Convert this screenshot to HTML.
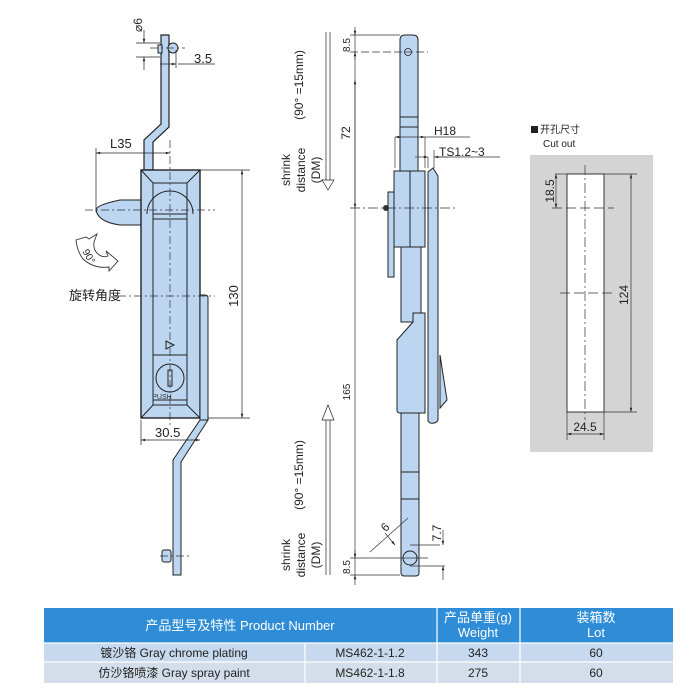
<!DOCTYPE html>
<html><head><meta charset="utf-8"><style>
body{margin:0;background:#fff;width:697px;height:691px;overflow:hidden;font-family:"Liberation Sans","Noto Sans CJK SC",sans-serif}
svg{position:absolute;left:0;top:0}
</style></head><body>
<svg width="697" height="691" viewBox="0 0 697 691" font-family="Liberation Sans, Noto Sans CJK SC, sans-serif">
<defs>
<marker id="a" viewBox="0 0 10 10" refX="10" refY="5" markerWidth="8" markerHeight="6" orient="auto-start-reverse"><path d="M0,2 L10,5 L0,8z" fill="#222"/></marker>
</defs>
<g stroke="#222" stroke-width="1" fill="#bcd5f1">
<!-- LEFT VIEW -->
<path d="M161,35 h8 v92 l-16,15 v28 h-9 v-30 l17,-16 z" stroke-width="1.2"/>
<circle cx="173" cy="48" r="5"/><rect x="158" y="45" width="4" height="8"/>
<path d="M141,200 H120 Q96,205 96,210 Q98,222 120,225 H141 z"/>
<rect x="141" y="170" width="59" height="248" stroke-width="1.4"/>
<path d="M200,295 h5 q3,0 3,3 v122 h-8 z"/>
<path d="M141,170 L153,183 H187 L200,170 M141,418 L153,405 H187 L200,418" fill="none"/>
<rect x="153" y="183" width="34" height="222"/>
<path d="M147,214 A23,23 0 0 1 193,214" fill="none"/>
<rect x="153" y="214" width="34" height="5"/>
<rect x="153" y="355" width="34" height="45"/>
<circle cx="170" cy="378" r="14"/>
<rect x="168" y="370" width="4" height="16" fill="none"/>
<path d="M166,341 l8,4 l-8,4z" fill="none"/>
<path d="M200,420 l8,0 l-27,42 v113 h-8 v-115 z"/>
<rect x="162" y="550" width="9" height="12" rx="2"/>
</g>
<text x="162" y="399" font-size="7" text-anchor="middle" fill="#333">PUSH</text>
<g stroke="#333" stroke-width="0.7" fill="none" stroke-dasharray="8,3,2,3">
<line x1="170" y1="140" x2="170" y2="428"/>
<line x1="85" y1="210" x2="215" y2="210"/>
<line x1="118" y1="296" x2="215" y2="296"/>
<line x1="160" y1="556" x2="190" y2="556"/>
<line x1="150" y1="48" x2="185" y2="48"/>
</g>
<g stroke="#222" stroke-width="0.7" fill="none">
<line x1="96" y1="148" x2="96" y2="212"/><line x1="96" y1="153" x2="170" y2="153" marker-start="url(#a)" marker-end="url(#a)"/>
<line x1="200" y1="170" x2="250" y2="170"/><line x1="208" y1="418" x2="250" y2="418"/>
<line x1="242" y1="170" x2="242" y2="418" marker-start="url(#a)" marker-end="url(#a)"/>
<line x1="141" y1="420" x2="141" y2="445"/><line x1="141" y1="440" x2="200" y2="440" marker-start="url(#a)" marker-end="url(#a)"/>
<line x1="136" y1="43" x2="160" y2="43"/><line x1="136" y1="57" x2="160" y2="57"/>
<line x1="144" y1="30" x2="144" y2="43" marker-end="url(#a)"/><line x1="144" y1="70" x2="144" y2="57" marker-end="url(#a)"/>
<line x1="176" y1="50" x2="176" y2="68"/><line x1="160" y1="64" x2="176" y2="64" marker-end="url(#a)"/><line x1="178" y1="64" x2="215" y2="64"/>
<path d="M76,240 l10,-3 l3,2 l8,-5 l-3,8 q-1,8 4,12 q5,4 10,2 l-2,-5 l12,10 l-9,10 l0,-4 q-15,2 -26,-8 q-6,-8 -7,-19z" stroke="#333" stroke-width="0.9"/>
</g>
<g font-size="13" fill="#222">
<text x="110" y="148">L35</text>
<text x="155" y="437">30.5</text>
<text x="194" y="63">3.5</text>
<text transform="translate(238,296) rotate(-90)" text-anchor="middle">130</text>
<text transform="translate(142,25) rotate(-90)" text-anchor="middle" font-size="12">⌀6</text>
<text x="69" y="300">旋转角度</text>
<text transform="translate(86,258) rotate(60)" font-size="10" text-anchor="middle">90°</text>
</g>

<!-- MIDDLE VIEW -->
<g stroke="#222" stroke-width="1" fill="#bcd5f1">
<rect x="401" y="390" width="18" height="186" rx="3"/>
<line x1="401" y1="472" x2="419" y2="472"/><line x1="401" y1="499" x2="419" y2="499"/>
<path d="M400,172 V40 q0,-5 5,-5 h8 q5,0 5,5 V172 z"/>
<line x1="400" y1="117" x2="418" y2="117"/><line x1="400" y1="127" x2="418" y2="127"/>
<rect x="401" y="247" width="20" height="75"/>
<path d="M428,172 l5,-4 l5,8 V420 q-2,4 -8,3 l-2,-2 z"/>
<path d="M440,355 l7,45 l-7,8 z"/>
<path d="M413,313 h12 v100 h-25 q-3,0 -3,-3 v-70 l16,-18 z"/>
<rect x="388" y="192" width="6" height="85"/>
<rect x="394" y="171" width="31" height="76"/>
<line x1="410" y1="171" x2="410" y2="247"/>
<circle cx="410" cy="558" r="7"/>
</g>
<circle cx="408" cy="52" r="3.5" fill="none" stroke="#222" stroke-width="0.8"/>
<circle cx="386" cy="208" r="3" fill="#333"/>
<g stroke="#333" stroke-width="0.7" fill="none">
<line x1="355" y1="35" x2="355" y2="578"/>
<line x1="350" y1="35" x2="400" y2="35"/><line x1="350" y1="52" x2="428" y2="52" stroke-dasharray="8,3"/>
<line x1="350" y1="208" x2="455" y2="208" stroke-dasharray="10,3,2,3"/>
<line x1="350" y1="558" x2="428" y2="558"/><line x1="350" y1="575" x2="400" y2="575"/>
<line x1="355" y1="27" x2="355" y2="35" marker-end="url(#a)"/><line x1="355" y1="60" x2="355" y2="52" marker-end="url(#a)"/>
<line x1="355" y1="80" x2="355" y2="208" marker-start="url(#a)" marker-end="url(#a)"/>
<line x1="355" y1="550" x2="355" y2="558" marker-end="url(#a)"/><line x1="355" y1="585" x2="355" y2="575" marker-end="url(#a)"/>
<line x1="395" y1="137" x2="395" y2="168"/><line x1="425" y1="137" x2="425" y2="168"/>
<line x1="395" y1="137" x2="425" y2="137" marker-start="url(#a)" marker-end="url(#a)"/><line x1="425" y1="137" x2="470" y2="137"/>
<line x1="428" y1="157" x2="428" y2="168"/><line x1="434" y1="150" x2="434" y2="168"/>
<line x1="415" y1="157" x2="428" y2="157" marker-end="url(#a)"/><line x1="448" y1="157" x2="434" y2="157" marker-end="url(#a)"/><line x1="434" y1="157" x2="500" y2="157"/>
<line x1="410" y1="545" x2="440" y2="545"/><line x1="410" y1="566" x2="445" y2="566"/>
<line x1="443" y1="530" x2="443" y2="545" marker-end="url(#a)"/><line x1="443" y1="580" x2="443" y2="566" marker-end="url(#a)"/>
<line x1="370" y1="552" x2="408" y2="518"/>
<line x1="385" y1="533" x2="395" y2="545" marker-end="url(#a)"/>
<path d="M330,32 V180 M326,32 V180 M322,180 L328,190 L334,180z" stroke="#222"/>
<path d="M326,575 V420 M330,575 V420 M322,420 L328,405 L334,420z" stroke="#222"/>
</g>
<g font-size="12" fill="#222">
<text transform="translate(350,45) rotate(-90)" text-anchor="middle" font-size="10">8.5</text>
<text transform="translate(350,133) rotate(-90)" text-anchor="middle">72</text>
<text transform="translate(350,392) rotate(-90)" text-anchor="middle" font-size="10">165</text>
<text transform="translate(350,567) rotate(-90)" text-anchor="middle" font-size="10">8.5</text>
<text transform="translate(441,533) rotate(-90)" text-anchor="middle">7.7</text>
<text transform="translate(388,530) rotate(-45)" text-anchor="middle">6</text>
<text x="434" y="135">H18</text>
<text x="439" y="156">TS1.2~3</text>
<text transform="translate(303,85) rotate(-90)" text-anchor="middle">(90°   =15mm)</text>
<text transform="translate(290,170) rotate(-90)" text-anchor="middle">shrink</text>
<text transform="translate(305,170) rotate(-90)" text-anchor="middle">distance</text>
<text transform="translate(320,170) rotate(-90)" text-anchor="middle">(DM)</text>
<text transform="translate(303,475) rotate(-90)" text-anchor="middle">(90°   =15mm)</text>
<text transform="translate(290,555) rotate(-90)" text-anchor="middle">shrink</text>
<text transform="translate(305,555) rotate(-90)" text-anchor="middle">distance</text>
<text transform="translate(320,555) rotate(-90)" text-anchor="middle">(DM)</text>
</g>

<!-- CUTOUT -->
<rect x="531" y="126" width="7" height="7" fill="#222"/>
<text x="540" y="133" font-size="10" fill="#222">开孔尺寸</text>
<text x="543" y="147" font-size="10" fill="#222">Cut out</text>
<rect x="530" y="155" width="123" height="297" fill="#d4d4d4"/>
<rect x="567" y="174" width="37" height="238" fill="#fff" stroke="#222" stroke-width="0.9"/>
<g stroke="#333" stroke-width="0.7" fill="none">
<line x1="585" y1="165" x2="585" y2="420" stroke-dasharray="10,3,2,3"/>
<line x1="552" y1="208" x2="614" y2="208" stroke-dasharray="10,4"/>
<line x1="560" y1="293" x2="613" y2="293" stroke-dasharray="10,4"/>
<line x1="604" y1="174" x2="637" y2="174"/><line x1="604" y1="412" x2="637" y2="412"/>
<line x1="631" y1="174" x2="631" y2="412" marker-start="url(#a)" marker-end="url(#a)"/>
<line x1="555" y1="174" x2="567" y2="174"/>
<line x1="556" y1="174" x2="556" y2="208" marker-start="url(#a)" marker-end="url(#a)"/>
<line x1="567" y1="412" x2="567" y2="440"/><line x1="604" y1="412" x2="604" y2="440"/>
<line x1="567" y1="434" x2="604" y2="434" marker-start="url(#a)" marker-end="url(#a)"/>
</g>
<text transform="translate(554,191) rotate(-90)" text-anchor="middle" font-size="12" fill="#222">18.5</text>
<text transform="translate(628,295) rotate(-90)" text-anchor="middle" font-size="12" fill="#222">124</text>
<text x="585" y="431" text-anchor="middle" font-size="12" fill="#222">24.5</text>

<!-- TABLE -->
<rect x="44" y="608" width="629" height="35" fill="#2e8dd6"/>
<rect x="44" y="643" width="629" height="19" fill="#c6d9ee"/>
<rect x="44" y="662" width="629" height="21" fill="#d3deea"/>
<g stroke="#fff" stroke-width="1.2">
<line x1="437" y1="608" x2="437" y2="683"/><line x1="520" y1="608" x2="520" y2="683"/>
<line x1="305" y1="643" x2="305" y2="683"/>
<line x1="44" y1="643" x2="673" y2="643"/><line x1="44" y1="662" x2="673" y2="662"/>
</g>
<g fill="#fff" font-size="13" text-anchor="middle">
<text x="240" y="630">产品型号及特性 Product Number</text>
<text x="478" y="622">产品单重(g)</text><text x="478" y="637">Weight</text>
<text x="596" y="622">装箱数</text><text x="596" y="637">Lot</text>
</g>
<g fill="#222" font-size="12" text-anchor="middle">
<text x="174" y="657">镀沙铬 Gray chrome plating</text>
<text x="370" y="657">MS462-1-1.2</text>
<text x="478" y="657">343</text><text x="596" y="657">60</text>
<text x="174" y="677">仿沙铬喷漆 Gray spray paint</text>
<text x="370" y="677">MS462-1-1.8</text>
<text x="478" y="677">275</text><text x="596" y="677">60</text>
</g>
</svg>
</body></html>
